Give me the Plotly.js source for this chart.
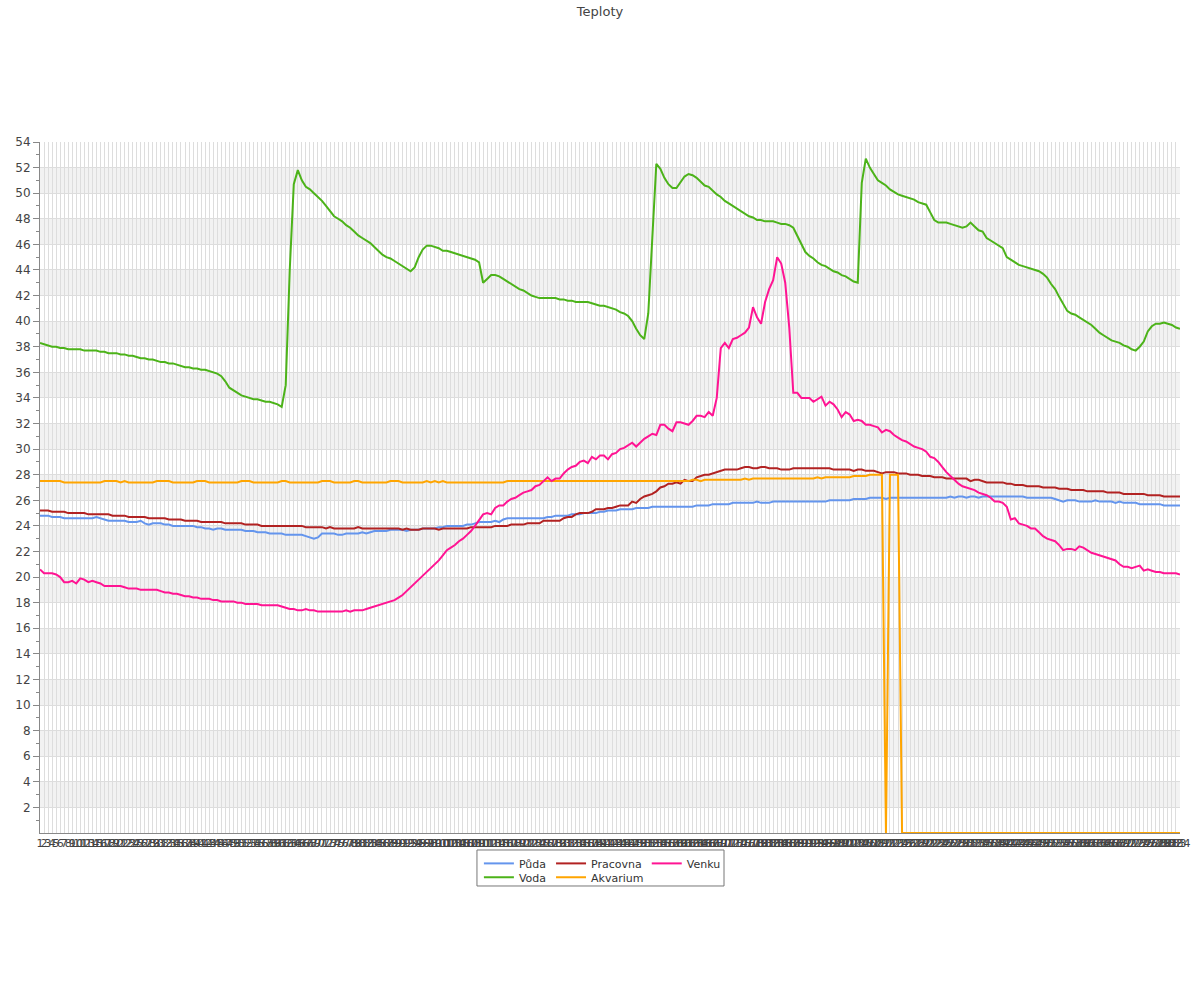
<!DOCTYPE html>
<html>
<head>
<meta charset="utf-8">
<script src="https://cdn.plot.ly/plotly-3.0.1.min.js"></script>
<style>html,body{margin:0;padding:0;background:#fff;}#chart{width:1200px;height:1000px;}</style>
</head>
<body>
<div id="chart"></div>
<script>
var categories = [
1,2,3,4,5,6,7,8,9,10,11,12,13,14,15,16,17,18,19,20,
21,22,23,24,25,26,27,28,29,30,31,32,33,34,35,36,37,38,39,40,
41,42,43,44,45,46,47,48,49,50,51,52,53,54,55,56,57,58,59,60,
61,62,63,64,65,66,67,68,69,70,71,72,73,74,75,76,77,78,79,80,
81,82,83,84,85,86,87,88,89,90,91,92,93,94,95,96,97,98,99,100,
101,102,103,104,105,106,107,108,109,110,111,112,113,114,115,116,117,118,119,120,
121,122,123,124,125,126,127,128,129,130,131,132,133,134,135,136,137,138,139,140,
141,142,143,144,145,146,147,148,149,150,151,152,153,154,155,156,157,158,159,160,
161,162,163,164,165,166,167,168,169,170,171,172,173,174,175,176,177,178,179,180,
181,182,183,184,185,186,187,188,189,190,191,192,193,194,195,196,197,198,199,200,
201,202,203,204,205,206,207,208,209,210,211,212,213,214,215,216,217,218,219,220,
221,222,223,224,225,226,227,228,229,230,231,232,233,234,235,236,237,238,239,240,
241,242,243,244,245,246,247,248,249,250,251,252,253,254,255,256,257,258,259,260,
261,262,263,264,265,266,267,268,269,270,271,272,273,274,275,276,277,278,279,280,
281,282,283,284
];

var puda = [
24.8,24.8,24.8,24.7,24.7,24.7,24.6,24.6,24.6,24.6,
24.6,24.6,24.6,24.6,24.7,24.6,24.5,24.4,24.4,24.4,
24.4,24.4,24.3,24.3,24.3,24.4,24.2,24.1,24.2,24.2,
24.2,24.1,24.1,24.0,24.0,24.0,24.0,24.0,24.0,23.9,
23.9,23.8,23.8,23.7,23.8,23.8,23.7,23.7,23.7,23.7,
23.7,23.6,23.6,23.6,23.5,23.5,23.5,23.4,23.4,23.4,
23.4,23.3,23.3,23.3,23.3,23.3,23.2,23.1,23.0,23.1,
23.4,23.4,23.4,23.4,23.3,23.3,23.4,23.4,23.4,23.4,
23.5,23.4,23.5,23.6,23.6,23.6,23.6,23.7,23.7,23.7,
23.7,23.6,23.7,23.7,23.7,23.8,23.8,23.8,23.8,23.9,
23.9,24.0,24.0,24.0,24.0,24.0,24.1,24.1,24.2,24.3,
24.3,24.3,24.3,24.4,24.3,24.5,24.6,24.6,24.6,24.6,
24.6,24.6,24.6,24.6,24.6,24.6,24.7,24.7,24.8,24.8,
24.8,24.8,24.9,24.9,24.9,25.0,25.0,25.0,25.0,25.1,
25.1,25.2,25.2,25.2,25.3,25.3,25.3,25.3,25.4,25.4,
25.4,25.4,25.5,25.5,25.5,25.5,25.5,25.5,25.5,25.5,
25.5,25.5,25.5,25.6,25.6,25.6,25.6,25.7,25.7,25.7,
25.7,25.7,25.8,25.8,25.8,25.8,25.8,25.8,25.9,25.8,
25.8,25.8,25.9,25.9,25.9,25.9,25.9,25.9,25.9,25.9,
25.9,25.9,25.9,25.9,25.9,25.9,26.0,26.0,26.0,26.0,
26.0,26.0,26.1,26.1,26.1,26.1,26.2,26.2,26.2,26.2,
26.1,26.2,26.2,26.2,26.2,26.2,26.2,26.2,26.2,26.2,
26.2,26.2,26.2,26.2,26.2,26.2,26.3,26.2,26.3,26.3,
26.2,26.3,26.3,26.2,26.3,26.3,26.3,26.3,26.3,26.3,
26.3,26.3,26.3,26.3,26.3,26.2,26.2,26.2,26.2,26.2,
26.2,26.2,26.1,26.0,25.9,26.0,26.0,26.0,25.9,25.9,
25.9,25.9,26.0,25.9,25.9,25.9,25.9,25.8,25.9,25.8,
25.8,25.8,25.8,25.7,25.7,25.7,25.7,25.7,25.7,25.6,
25.6,25.6,25.6,25.6
];

var voda = [
38.3,38.2,38.1,38.0,38.0,37.9,37.9,37.8,37.8,37.8,
37.8,37.7,37.7,37.7,37.7,37.6,37.6,37.5,37.5,37.5,
37.4,37.4,37.3,37.3,37.2,37.1,37.1,37.0,37.0,36.9,
36.8,36.8,36.7,36.7,36.6,36.5,36.4,36.4,36.3,36.3,
36.2,36.2,36.1,36.0,35.9,35.7,35.3,34.8,34.6,34.4,
34.2,34.1,34.0,33.9,33.9,33.8,33.7,33.7,33.6,33.5,
33.3,35.0,44.0,50.7,51.8,51.0,50.5,50.3,50.0,49.7,
49.4,49.0,48.6,48.2,48.0,47.8,47.5,47.3,47.0,46.7,
46.5,46.3,46.1,45.8,45.5,45.2,45.0,44.9,44.7,44.5,
44.3,44.1,43.9,44.2,45.0,45.6,45.9,45.9,45.8,45.7,
45.5,45.5,45.4,45.3,45.2,45.1,45.0,44.9,44.8,44.6,
43.0,43.3,43.6,43.6,43.5,43.3,43.1,42.9,42.7,42.5,
42.4,42.2,42.0,41.9,41.8,41.8,41.8,41.8,41.8,41.7,
41.7,41.6,41.6,41.5,41.5,41.5,41.5,41.4,41.3,41.2,
41.2,41.1,41.0,40.9,40.7,40.6,40.4,40.0,39.4,38.9,
38.6,40.6,46.5,52.3,51.9,51.2,50.7,50.4,50.4,50.9,
51.3,51.5,51.4,51.2,50.9,50.6,50.5,50.2,49.9,49.7,
49.4,49.2,49.0,48.8,48.6,48.4,48.2,48.1,47.9,47.9,
47.8,47.8,47.8,47.7,47.6,47.6,47.5,47.3,46.7,46.1,
45.4,45.1,44.9,44.6,44.4,44.3,44.1,43.9,43.8,43.6,
43.5,43.3,43.1,43.0,50.8,52.7,52.0,51.5,51.0,50.8,
50.6,50.3,50.1,49.9,49.8,49.7,49.6,49.5,49.3,49.2,
49.1,48.5,47.9,47.7,47.7,47.7,47.6,47.5,47.4,47.3,
47.4,47.7,47.4,47.1,47.0,46.5,46.3,46.1,45.9,45.7,
45.0,44.8,44.6,44.4,44.3,44.2,44.1,44.0,43.9,43.7,
43.4,42.9,42.5,41.9,41.3,40.8,40.6,40.5,40.3,40.1,
39.9,39.7,39.4,39.1,38.9,38.7,38.5,38.4,38.3,38.1,
38.0,37.8,37.7,38.0,38.4,39.2,39.6,39.8,39.8,39.9,
39.8,39.7,39.5,39.4
];

var pracovna = [
25.2,25.2,25.2,25.1,25.1,25.1,25.1,25.0,25.0,25.0,
25.0,25.0,24.9,24.9,24.9,24.9,24.9,24.9,24.8,24.8,
24.8,24.8,24.7,24.7,24.7,24.7,24.7,24.6,24.6,24.6,
24.6,24.6,24.5,24.5,24.5,24.5,24.4,24.4,24.4,24.4,
24.3,24.3,24.3,24.3,24.3,24.3,24.2,24.2,24.2,24.2,
24.2,24.1,24.1,24.1,24.1,24.0,24.0,24.0,24.0,24.0,
24.0,24.0,24.0,24.0,24.0,24.0,23.9,23.9,23.9,23.9,
23.9,23.8,23.9,23.8,23.8,23.8,23.8,23.8,23.8,23.9,
23.8,23.8,23.8,23.8,23.8,23.8,23.8,23.8,23.8,23.8,
23.7,23.8,23.7,23.7,23.7,23.8,23.8,23.8,23.8,23.7,
23.8,23.8,23.8,23.8,23.8,23.8,23.8,23.9,23.9,23.9,
23.9,23.9,23.9,24.0,24.0,24.0,24.0,24.1,24.1,24.1,
24.1,24.2,24.2,24.2,24.2,24.4,24.4,24.4,24.4,24.4,
24.6,24.7,24.7,24.9,25.0,25.0,25.0,25.1,25.3,25.3,
25.3,25.4,25.4,25.5,25.6,25.6,25.6,25.9,25.8,26.1,
26.3,26.4,26.5,26.7,27.0,27.1,27.3,27.3,27.4,27.3,
27.6,27.5,27.5,27.8,27.9,28.0,28.0,28.1,28.2,28.3,
28.4,28.4,28.4,28.4,28.5,28.6,28.6,28.5,28.5,28.6,
28.6,28.5,28.5,28.5,28.4,28.4,28.4,28.5,28.5,28.5,
28.5,28.5,28.5,28.5,28.5,28.5,28.5,28.4,28.4,28.4,
28.4,28.4,28.3,28.4,28.4,28.3,28.3,28.3,28.2,28.1,
28.2,28.2,28.2,28.1,28.1,28.1,28.0,28.0,28.0,27.9,
27.9,27.9,27.8,27.8,27.8,27.7,27.7,27.7,27.7,27.7,
27.7,27.5,27.6,27.6,27.5,27.4,27.4,27.4,27.4,27.4,
27.3,27.3,27.2,27.2,27.2,27.1,27.1,27.1,27.1,27.0,
27.0,27.0,27.0,26.9,26.9,26.9,26.8,26.8,26.8,26.8,
26.7,26.7,26.7,26.7,26.7,26.6,26.6,26.6,26.6,26.5,
26.5,26.5,26.5,26.5,26.5,26.4,26.4,26.4,26.4,26.3,
26.3,26.3,26.3,26.3
];

var akvarium = [
27.5,27.5,27.5,27.5,27.5,27.5,27.4,27.4,27.4,27.4,
27.4,27.4,27.4,27.4,27.4,27.4,27.5,27.5,27.5,27.5,
27.4,27.5,27.4,27.4,27.4,27.4,27.4,27.4,27.4,27.5,
27.5,27.5,27.5,27.4,27.4,27.4,27.4,27.4,27.4,27.5,
27.5,27.5,27.4,27.4,27.4,27.4,27.4,27.4,27.4,27.4,
27.5,27.5,27.5,27.4,27.4,27.4,27.4,27.4,27.4,27.4,
27.5,27.5,27.4,27.4,27.4,27.4,27.4,27.4,27.4,27.4,
27.5,27.5,27.5,27.4,27.4,27.4,27.4,27.4,27.5,27.5,
27.4,27.4,27.4,27.4,27.4,27.4,27.4,27.5,27.5,27.5,
27.4,27.4,27.4,27.4,27.4,27.4,27.5,27.4,27.5,27.4,
27.5,27.4,27.4,27.4,27.4,27.4,27.4,27.4,27.4,27.4,
27.4,27.4,27.4,27.4,27.4,27.4,27.5,27.5,27.5,27.5,
27.5,27.5,27.5,27.5,27.5,27.5,27.5,27.5,27.5,27.5,
27.5,27.5,27.5,27.5,27.5,27.5,27.5,27.5,27.5,27.5,
27.5,27.5,27.5,27.5,27.5,27.5,27.5,27.5,27.5,27.5,
27.5,27.5,27.5,27.5,27.5,27.5,27.5,27.5,27.5,27.5,
27.5,27.5,27.6,27.6,27.5,27.6,27.6,27.6,27.6,27.6,
27.6,27.6,27.6,27.6,27.6,27.7,27.6,27.7,27.7,27.7,
27.7,27.7,27.7,27.7,27.7,27.7,27.7,27.7,27.7,27.7,
27.7,27.7,27.7,27.8,27.7,27.8,27.8,27.8,27.8,27.8,
27.8,27.8,27.9,27.9,27.9,27.9,28.0,28.0,28.0,28.0,
0,28.0,28.0,28.0,0,0,0,0,0,0,
0,0,0,0,0,0,0,0,0,0,
0,0,0,0,0,0,0,0,0,0,
0,0,0,0,0,0,0,0,0,0,
0,0,0,0,0,0,0,0,0,0,
0,0,0,0,0,0,0,0,0,0,
0,0,0,0,0,0,0,0,0,0,
0,0,0,0
];

var venku = [
20.6,20.3,20.3,20.3,20.2,20.0,19.6,19.6,19.7,19.5,
19.9,19.8,19.6,19.7,19.6,19.5,19.3,19.3,19.3,19.3,
19.3,19.2,19.1,19.1,19.1,19.0,19.0,19.0,19.0,19.0,
18.9,18.8,18.8,18.7,18.7,18.6,18.5,18.5,18.4,18.4,
18.3,18.3,18.3,18.2,18.2,18.1,18.1,18.1,18.1,18.0,
18.0,17.9,17.9,17.9,17.9,17.8,17.8,17.8,17.8,17.8,
17.7,17.6,17.5,17.5,17.4,17.4,17.5,17.4,17.4,17.3,
17.3,17.3,17.3,17.3,17.3,17.3,17.4,17.3,17.4,17.4,
17.4,17.5,17.6,17.7,17.8,17.9,18.0,18.1,18.2,18.4,
18.6,18.9,19.2,19.5,19.8,20.1,20.4,20.7,21.0,21.3,
21.7,22.1,22.3,22.5,22.8,23.0,23.3,23.6,24.0,24.5,
24.9,25.0,24.9,25.4,25.6,25.6,25.9,26.1,26.2,26.4,
26.6,26.7,26.8,27.1,27.2,27.5,27.8,27.5,27.7,27.7,
28.1,28.4,28.6,28.7,29.0,29.1,28.9,29.4,29.2,29.5,
29.5,29.2,29.6,29.7,30.0,30.1,30.3,30.5,30.2,30.5,
30.8,31.0,31.2,31.1,31.9,31.9,31.6,31.4,32.1,32.1,
32.0,31.9,32.2,32.6,32.6,32.5,32.9,32.6,34.0,37.9,
38.3,37.9,38.6,38.7,38.9,39.1,39.5,41.1,40.3,39.8,
41.5,42.5,43.2,45.0,44.5,43.0,39.5,34.4,34.4,34.0,
34.0,34.0,33.7,33.9,34.1,33.4,33.7,33.5,33.1,32.5,
32.9,32.7,32.2,32.3,32.2,31.9,31.9,31.8,31.7,31.3,
31.5,31.4,31.1,30.9,30.7,30.6,30.4,30.2,30.1,30.0,
29.8,29.4,29.3,29.0,28.6,28.2,27.9,27.6,27.3,27.1,
27.0,26.9,26.8,26.6,26.5,26.4,26.2,25.9,25.9,25.8,
25.5,24.5,24.6,24.2,24.1,24.0,23.8,23.8,23.5,23.2,
23.0,22.9,22.8,22.5,22.1,22.2,22.2,22.1,22.4,22.3,
22.1,21.9,21.8,21.7,21.6,21.5,21.4,21.3,21.0,20.8,
20.8,20.7,20.8,20.9,20.5,20.6,20.5,20.4,20.4,20.3,
20.3,20.3,20.3,20.2
];

var yTickVals = [2,4,6,8,10,12,14,16,18,20,22,24,26,28,30,32,34,36,38,40,42,44,46,48,50,52,54];
var yMinorVals = [1,3,5,7,9,11,13,15,17,19,21,23,25,27,29,31,33,35,37,39,41,43,45,47,49,51,53];
var bandStarts = [2,6,10,14,18,22,26,30,34,38,42,46,50];

[puda, voda, pracovna, akvarium, venku].forEach(function(s, k){
  if (s.length !== categories.length) throw new Error('series ' + k + ' length ' + s.length + ' != ' + categories.length);
});

function tr(name, y, color, legend) {
  return {type:'scatter', mode:'lines', name:name, x:categories, y:y, legend:legend,
          line:{color:color, width:2}, hoverinfo:'skip'};
}
var traces = [
  tr('Půda', puda, '#6495ED', 'legend'),
  tr('Voda', voda, '#4CB319', 'legend2'),
  tr('Pracovna', pracovna, '#B22222', 'legend'),
  tr('Akvarium', akvarium, '#FFA500', 'legend2'),
  tr('Venku', venku, '#FF1493', 'legend')
];

var shapes = bandStarts.map(function(b){
  return {type:'rect', xref:'paper', yref:'y', x0:0, x1:1, y0:b, y1:b+2,
          fillcolor:'#f2f2f2', line:{width:0}, layer:'below'};
});
shapes.push({type:'rect', xref:'paper', yref:'paper', x0:0.3833, x1:0.6, y0:-0.0767, y1:-0.0246,
             fillcolor:'rgba(0,0,0,0)', line:{color:'#777', width:1}});

var legendBase = {orientation:'h', xanchor:'left', yanchor:'top', x:0.385,
  bgcolor:'rgba(0,0,0,0)', borderwidth:0, font:{family:'DejaVu Sans, sans-serif', size:11, color:'#333'},
  itemwidth:30, tracegroupgap:0};
var legend1 = Object.assign({}, legendBase, {y:-0.023});
var legend2 = Object.assign({}, legendBase, {y:-0.043});

var layout = {
  width:1200, height:1000,
  margin:{l:40, r:20, t:142, b:167, pad:0},
  paper_bgcolor:'#ffffff', plot_bgcolor:'#ffffff',
  font:{family:'DejaVu Sans, sans-serif', size:11, color:'#444'},
  title:{text:'Teploty', x:0.5, xanchor:'center', y:0.989, yanchor:'middle', font:{size:13, color:'#444'}},
  showlegend:true,
  legend:legend1,
  legend2:legend2,
  xaxis:{type:'category', range:[0,283], tickmode:'linear', tick0:0, dtick:1, tickangle:0,
         showgrid:true, gridcolor:'#dddddd', gridwidth:1, showline:true, linecolor:'#888', linewidth:1,
         ticks:'', tickfont:{size:11, color:'#444'}, zeroline:false, fixedrange:true},
  yaxis:{range:[0,54], tickmode:'array', tickvals:yTickVals, ticks:'outside', ticklen:6, tickcolor:'#888',
         showline:true, linecolor:'#888', linewidth:1, showgrid:true, gridcolor:'#dddddd', zeroline:false,
         tickfont:{size:12, color:'#444'},
         minor:{tickmode:'array', tickvals:yMinorVals, ticks:'outside', ticklen:3, tickcolor:'#888', showgrid:false},
         fixedrange:true},
  shapes:shapes
};

Plotly.newPlot('chart', traces, layout, {staticPlot:true, displayModeBar:false});
</script>
</body>
</html>
